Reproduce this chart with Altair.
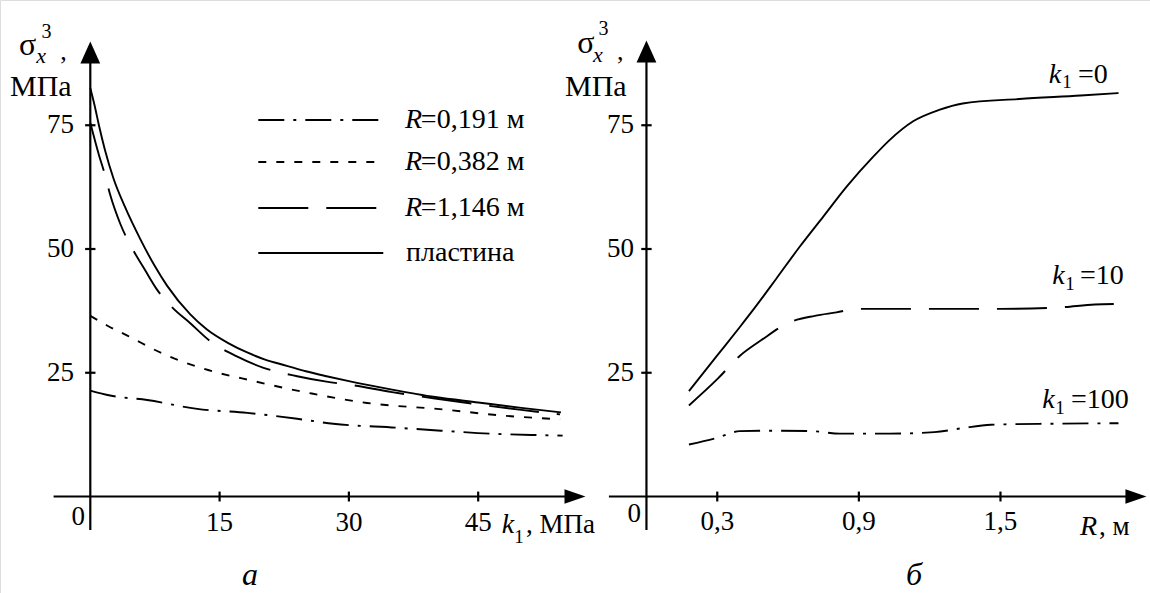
import altair as alt
import pandas as pd

# ---------------- data: panel "а" (sigma vs k1) ----------------
k_plate = [0, 0.5, 1, 1.7, 2.7, 4, 5.8, 7.5, 8.9, 11.6, 13.5, 16, 18.2, 20.2, 22.8, 25, 27.4, 30, 35, 40, 45, 50, 54.6]
v_plate = [82.5, 79, 75, 70, 64.2, 58.6, 52, 46.5, 42.6, 36.8, 33.8, 31, 29.1, 27.7, 26.4, 25.3, 24.3, 23.3, 21.6, 20.1, 19.0, 17.9, 17.0]

k_r1146 = [0, 1, 1.7, 2.3, 3.5, 5, 6.4, 7.7, 9.5, 11.6, 13.9, 17, 20.1, 24, 27.4, 30, 35, 40, 45, 50, 54.5]
v_r1146 = [75.5, 69, 65, 61, 55, 49.7, 45.6, 41.9, 38.2, 35, 31.4, 28.3, 26, 24.3, 23.2, 22.6, 21.1, 19.8, 18.6, 17.5, 16.6]

k_r0382 = [0, 2, 4.3, 8.6, 12.8, 19, 25.7, 32.1, 40.9, 47.5, 54.5]
v_r0382 = [36.5, 34.5, 32.5, 28.7, 26.0, 23.3, 20.8, 18.9, 17.6, 16.4, 15.6]

k_r0191 = [0, 2.3, 6.6, 12.4, 18.2, 24, 28.2, 35.5, 40.7, 46.3, 52.1, 54.8]
v_r0191 = [21.4, 20.4, 19.5, 17.7, 16.9, 15.7, 14.7, 13.9, 13.3, 12.7, 12.4, 12.3]

# ---------------- data: panel "б" (sigma vs R) ----------------
R_k0 = [0.18, 0.3, 0.395, 0.46, 0.55, 0.65, 0.75, 0.85, 0.96, 1.03, 1.13, 1.24, 1.34, 1.58, 1.84, 2.0]
v_k0 = [21.3, 28.5, 34.2, 38.2, 44, 50.5, 56.6, 62.7, 68.6, 72.0, 75.8, 78.1, 79.4, 80.3, 81, 81.5]

R_k10 = [0.18, 0.3, 0.395, 0.487, 0.607, 0.713, 0.805, 0.89, 1.2, 1.5, 1.75, 1.9, 1.98]
v_k10 = [18.4, 23.7, 28.4, 31.6, 35.2, 36.5, 37.2, 37.9, 37.9, 37.9, 38.2, 38.8, 38.9]

R_k100 = [0.18, 0.296, 0.395, 0.55, 0.706, 0.82, 1.03, 1.22, 1.336, 1.46, 1.7, 2.0]
v_k100 = [10.5, 11.8, 13.2, 13.3, 13.2, 12.7, 12.7, 13.0, 13.8, 14.5, 14.7, 14.8]

# ---------------- ticks / labels ----------------
y_ticks = [25, 50, 75]
y_tick_labels = ["25", "50", "75"]
x_ticks_left = [15, 30, 45]
x_tick_labels_left = ["15", "30", "45"]
x_ticks_right = [0.3, 0.9, 1.5]
x_tick_labels_right = ["0,3", "0,9", "1,5"]
legend_labels = ["=0,191 м", "=0,382 м", "=1,146 м", "пластина"]

# ---------------- styles ----------------
FONT = "Liberation Serif"
DASH_DOT = [26, 9, 3, 9]
DASH_SHORT = [8, 10]
DASH_LONG = [50, 18]
LW = 1.9

XL = alt.Scale(domain=[-10.476, 122.94], nice=False, zero=False)
XR = alt.Scale(domain=[-2.739, 2.1335], nice=False, zero=False)
YS = alt.Scale(domain=[-19.49, 100.3], nice=False, zero=False)

ARROW_RIGHT = "M1,0L-1,-0.7L-1,0.7Z"
ARROW_UP = "M0,-1L0.9,1L-0.9,1Z"


def enc_xy(scale):
    return dict(x=alt.X("x:Q", scale=scale, axis=None),
                y=alt.Y("y:Q", scale=YS, axis=None))


def curve(xs, ys, scale, dash=None):
    df = pd.DataFrame({"x": xs, "y": ys})
    kw = dict(color="black", strokeWidth=LW, interpolate="monotone")
    if dash:
        kw["strokeDash"] = dash
    return alt.Chart(df).mark_line(**kw).encode(**enc_xy(scale))


def seg(x1, x2, y1, y2, scale, width=2.2, dash=None):
    df = pd.DataFrame({"x": [x1], "x2": [x2], "y": [y1], "y2": [y2]})
    kw = dict(color="black", strokeWidth=width)
    if dash:
        kw["strokeDash"] = dash
    return alt.Chart(df).mark_rule(**kw).encode(
        x=alt.X("x:Q", scale=scale, axis=None), x2="x2:Q",
        y=alt.Y("y:Q", scale=YS, axis=None), y2="y2:Q")


def label(t, x, y, scale, size=27, style="normal", align="left", baseline="alphabetic"):
    df = pd.DataFrame({"x": [x], "y": [y], "t": [t]})
    return alt.Chart(df).mark_text(font=FONT, fontSize=size, fontStyle=style, align=align,
                                   baseline=baseline, color="black").encode(
        text="t:N", **enc_xy(scale))


def arrow(x, y, scale, path, size):
    df = pd.DataFrame({"x": [x], "y": [y]})
    return alt.Chart(df).mark_point(shape=path, size=size, filled=True, color="black",
                                    opacity=1, strokeWidth=0).encode(**enc_xy(scale))


# ================= panel а =================
left = []
left += [curve(k_r0191, v_r0191, XL, DASH_DOT),
         curve(k_r0382, v_r0382, XL, DASH_SHORT),
         curve(k_r1146, v_r1146, XL, DASH_LONG),
         curve(k_plate, v_plate, XL)]
# axes
left += [seg(-4.26, 56.3, 0, 0, XL), seg(0, 0, -6.77, 88, XL),
         arrow(56.23, 0, XL, ARROW_RIGHT, 441), arrow(0, 89.7, XL, ARROW_UP, 484)]
for t, lab in zip(x_ticks_left, x_tick_labels_left):
    left += [seg(t, t, -1.0, 1.0, XL), label(lab, t, -5.35, XL, align="center", baseline="middle")]
for t, lab in zip(y_ticks, y_tick_labels):
    left += [seg(-0.6, 0.6, t, t, XL), label(lab, -1.89, t, XL, align="right", baseline="middle")]
left += [label("0", -0.615, -4.14, XL, align="right", baseline="middle")]
# axis titles
left += [label("σ", -7.285, 89.19, XL, size=32, align="center"),
         label("3", -5.081, 92.63, XL, size=20, align="center"),
         label("x", -5.719, 87.6, XL, size=22, style="italic", align="center"),
         label(",", -3.5, 88.18, XL, size=26),
         label("МПа", -9.316, 80.91, XL, size=30),
         label("k", 48.46, -7.37, XL, size=28, style="italic", align="center"),
         label("1", 49.73, -9.39, XL, size=19, align="center"),
         label(", МПа", 50.55, -7.37, XL, size=27),
         label("а", 18.53, -17.88, XL, size=32, style="italic", align="center")]
# legend
rows_v = [76.06, 67.58, 58.28, 49.19]
dashes = [DASH_DOT, DASH_SHORT, DASH_LONG, None]
for i, (rv, d, lab) in enumerate(zip(rows_v, dashes, legend_labels)):
    left += [seg(19.49, 33.99, rv, rv, XL, width=LW, dash=d)]
    if i < 3:
        left += [label("R", 36.51, rv, XL, size=28, style="italic", baseline="middle"),
                 label(lab, 38.35, rv, XL, size=28, baseline="middle")]
    else:
        left += [label(lab, 36.63, rv, XL, size=28, baseline="middle")]

# ================= panel б =================
right = []
right += [curve(R_k100, v_k100, XR, DASH_DOT),
          curve(R_k10, v_k10, XR, DASH_LONG),
          curve(R_k0, v_k0, XR)]
right += [seg(-0.159, 2.07, 0, 0, XR), seg(0, 0, -6.77, 88, XR),
          arrow(2.074, 0, XR, ARROW_RIGHT, 441), arrow(0, 89.9, XR, ARROW_UP, 484)]
for t, lab in zip(x_ticks_right, x_tick_labels_right):
    right += [seg(t, t, -1.0, 1.0, XR), label(lab, t, -5.15, XR, align="center", baseline="middle")]
for t, lab in zip(y_ticks, y_tick_labels):
    right += [seg(-0.022, 0.022, t, t, XR), label(lab, -0.053, t, XR, align="right", baseline="middle")]
right += [label("0", -0.0233, -3.54, XR, align="right", baseline="middle")]
right += [label("σ", -0.2564, 89.6, XR, size=32, align="center"),
          label("3", -0.1822, 93.2, XR, size=20, align="center"),
          label("x", -0.2055, 87.8, XR, size=22, style="italic", align="center"),
          label(",", -0.125, 88.1, XR, size=26),
          label("МПа", -0.3453, 80.9, XR, size=30),
          label("R", 1.8369, -7.78, XR, size=28, style="italic"),
          label(", м", 1.9174, -7.78, XR, size=27),
          label("б", 1.1335, -17.88, XR, size=32, style="italic", align="center")]
# curve labels k1=...
for kx, sx, ex, vb, vs, txt in [(1.731, 1.7818, 1.8284, 83.54, 82.53, "=0"),
                                (1.7458, 1.7945, 1.8369, 42.93, 41.72, "=10"),
                                (1.7034, 1.752, 1.7987, 17.88, 16.67, "=100")]:
    right += [label("k", kx, vb, XR, size=28, style="italic", align="center"),
              label("1", sx, vs, XR, size=19, align="center"),
              label(txt, ex, vb, XR, size=28)]

chart = alt.layer(alt.layer(*left), alt.layer(*right)).resolve_scale(x="independent").properties(
    width=1150, height=593, padding=0,
    autosize=alt.AutoSizeParams(type="none"),
).configure_view(stroke=None).configure(background="white")

chart.save("out.html", embed_options={"renderer": "svg", "actions": False})
